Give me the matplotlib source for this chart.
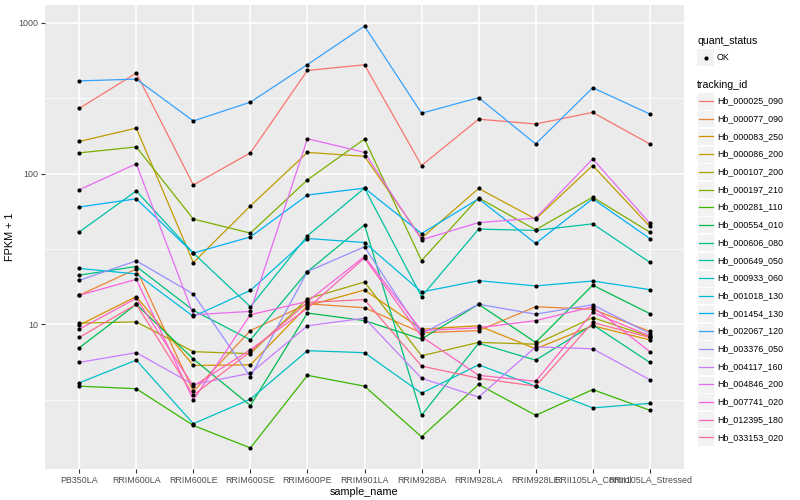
import numpy as np
import matplotlib
matplotlib.use("Agg")
import matplotlib.pyplot as plt
from matplotlib.patches import Rectangle
from matplotlib.lines import Line2D
from matplotlib.ticker import FixedLocator, NullFormatter

plt.rcParams['font.family'] = ['Liberation Sans', 'DejaVu Sans']

samples = ["PB350LA", "RRIM600LA", "RRIM600LE", "RRIM600SE", "RRIM600PE", "RRIM901LA",
           "RRIM928BA", "RRIM928LA", "RRIM928LE", "RRII105LA_Control", "RRII105LA_Stressed"]

tracking_ids = ["Hb_000025_090", "Hb_000077_090", "Hb_000083_250", "Hb_000086_200",
                "Hb_000107_200", "Hb_000197_210", "Hb_000281_110", "Hb_000554_010",
                "Hb_000606_080", "Hb_000649_050", "Hb_000933_060", "Hb_001018_130",
                "Hb_001454_130", "Hb_002067_120", "Hb_003376_050", "Hb_004117_160",
                "Hb_004846_200", "Hb_007741_020", "Hb_012395_180", "Hb_033153_020"]

# FPKM + 1 (one list per gene, same order as samples)
hb_000025_090 = [270, 463, 84, 137, 482, 525, 113, 229, 213, 254, 157]
hb_000077_090 = [15.6, 23.3, 3.6, 9.1, 13.7, 12.9, 8.8, 9.1, 13.1, 12.6, 9.0]
hb_000083_250 = [9.9, 15.3, 5.35, 5.4, 13.3, 16.9, 9.3, 9.8, 6.9, 9.8, 7.9]
hb_000086_200 = [163, 200, 25.7, 61, 138, 130, 37.3, 79.6, 49.9, 113, 44.6]
hb_000107_200 = [10.2, 10.4, 6.6, 6.4, 14.8, 19.1, 6.2, 7.6, 7.4, 11.1, 8.3]
hb_000197_210 = [137, 150, 49.9, 40.3, 90.8, 169, 26.5, 69, 42.4, 69.7, 40.9]
hb_000281_110 = [3.9, 3.75, 2.14, 1.52, 4.6, 3.9, 1.8, 4.0, 2.5, 3.7, 2.7]
hb_000554_010 = [7.0, 13.6, 5.9, 2.9, 11.9, 10.6, 8.0, 13.6, 7.6, 18.2, 11.8]
hb_000606_080 = [21.2, 24.2, 12.4, 7.9, 22.4, 45.7, 2.5, 7.5, 5.8, 9.95, 5.6]
hb_000649_050 = [41, 76.7, 29.7, 13.1, 38.7, 80, 15.3, 42.8, 42, 46.4, 25.8]
hb_000933_060 = [4.1, 5.8, 2.2, 3.2, 6.7, 6.5, 3.5, 5.4, 3.9, 2.8, 3.0]
hb_001018_130 = [23.5, 21.6, 11.3, 16.8, 37.1, 34.9, 16.4, 19.5, 18, 19.4, 17.0]
hb_001454_130 = [60, 68, 29.7, 38, 72, 80, 40, 68, 34.4, 68, 37.1]
hb_002067_120 = [411, 422, 223, 297, 527, 948, 251, 318, 157, 370, 248]
hb_003376_050 = [19.6, 26.4, 15.9, 4.5, 22.4, 32.7, 8.7, 13.6, 11.7, 13.5, 8.7]
hb_004117_160 = [5.6, 6.5, 4.0, 4.75, 9.8, 11.0, 4.4, 3.3, 7.1, 6.9, 4.3]
hb_004846_200 = [78, 116, 11.6, 12.2, 170, 138, 36.4, 47.3, 50.6, 125, 46.9]
hb_007741_020 = [15.6, 19.9, 3.16, 11.6, 14.2, 28.2, 9.1, 9.5, 10.6, 13.1, 6.6]
hb_012395_180 = [9.3, 14.9, 3.9, 6.8, 12.8, 27.6, 8.3, 4.6, 4.2, 12.0, 8.4]
hb_033153_020 = [8.2, 13.6, 3.4, 6.6, 14.0, 14.6, 5.3, 4.4, 3.9, 10.3, 8.2]

fpkm = [hb_000025_090, hb_000077_090, hb_000083_250, hb_000086_200, hb_000107_200,
        hb_000197_210, hb_000281_110, hb_000554_010, hb_000606_080, hb_000649_050,
        hb_000933_060, hb_001018_130, hb_001454_130, hb_002067_120, hb_003376_050,
        hb_004117_160, hb_004846_200, hb_007741_020, hb_012395_180, hb_033153_020]

# ggplot2 default hue palette for 20 levels
colors = ["#F8766D", "#EA8331", "#D89000", "#C09B00", "#A3A500", "#7CAE00", "#39B600",
          "#00BB4E", "#00BF7D", "#00C1A3", "#00BFC4", "#00BAE0", "#00B0F6", "#35A2FF",
          "#9590FF", "#C77CFF", "#E76BF3", "#FA62DB", "#FF62BC", "#FF6C91"]

W, H = 800, 500
fig = plt.figure(figsize=(8, 5), dpi=100)
# panel in pixels: left 45, right 684, top 5, bottom 469
ax = fig.add_axes([45 / W, 1 - 469 / H, (684 - 45) / W, (469 - 5) / H])
ax.set_facecolor("#EBEBEB")
for s in ax.spines.values():
    s.set_visible(False)

x = np.arange(len(samples))
for vals, col in zip(fpkm, colors):
    ax.plot(x, vals, color=col, lw=0.9, zorder=2, solid_capstyle="butt")
for vals in fpkm:
    ax.plot(x, vals, "o", color="black", ms=3.0, zorder=3, markeredgewidth=0)

ax.set_yscale("log")
lo = np.log10(min(min(v) for v in fpkm))
hi = np.log10(max(max(v) for v in fpkm))
pad = (hi - lo) * 0.05
ax.set_ylim(10 ** (lo - pad), 10 ** (hi + pad))
ax.set_xlim(-0.6, len(samples) - 0.4)

ax.yaxis.set_major_locator(FixedLocator([10, 100, 1000]))
ax.set_yticklabels(["10", "100", "1000"])
ax.yaxis.set_minor_locator(FixedLocator([10 ** 0.5, 10 ** 1.5, 10 ** 2.5]))
ax.yaxis.set_minor_formatter(NullFormatter())
ax.set_xticks(x)
ax.set_xticklabels(samples)

ax.grid(which="major", color="white", lw=1.1, zorder=0)
ax.grid(which="minor", axis="y", color="white", lw=0.55, zorder=0)
ax.set_axisbelow(True)
ax.tick_params(which="major", length=2.8, width=0.8, color="#333333",
               labelcolor="#4D4D4D", labelsize=6.4, pad=2)
ax.tick_params(which="minor", length=0)

ax.set_xlabel("sample_name", fontsize=7.8, labelpad=1.5)
ax.set_ylabel("FPKM + 1", fontsize=7.8, labelpad=2.5)


def px(xp, yp):
    return xp / W, 1 - yp / H


# legend: quant_status
fig.text(*px(697, 41), "quant_status", fontsize=7.6, va="center", ha="left")
fig.add_artist(Rectangle(px(697, 66), 17 / W, 17 / H, transform=fig.transFigure,
                         facecolor="#F2F2F2", edgecolor="none"))
fig.add_artist(Line2D([705.5 / W], [1 - 57.5 / H], marker="o", color="black",
                      ms=3.0, markeredgewidth=0, transform=fig.transFigure))
fig.text(*px(717, 57.5), "OK", fontsize=6.4, va="center", ha="left")

# legend: tracking_id
fig.text(*px(697, 84.5), "tracking_id", fontsize=7.6, va="center", ha="left")
step = 17.7
for i, (name, col) in enumerate(zip(tracking_ids, colors)):
    yc = 101 + step * i
    fig.add_artist(Rectangle(px(697, yc + 8.5), 17 / W, 17 / H, transform=fig.transFigure,
                             facecolor="#F2F2F2", edgecolor="white", lw=0.6))
    fig.add_artist(Line2D([698.5 / W, 712.5 / W], [1 - yc / H, 1 - yc / H],
                          color=col, lw=0.9, transform=fig.transFigure))
    fig.text(*px(717, yc), name, fontsize=6.4, va="center", ha="left")

fig.savefig("out.png", dpi=100)
